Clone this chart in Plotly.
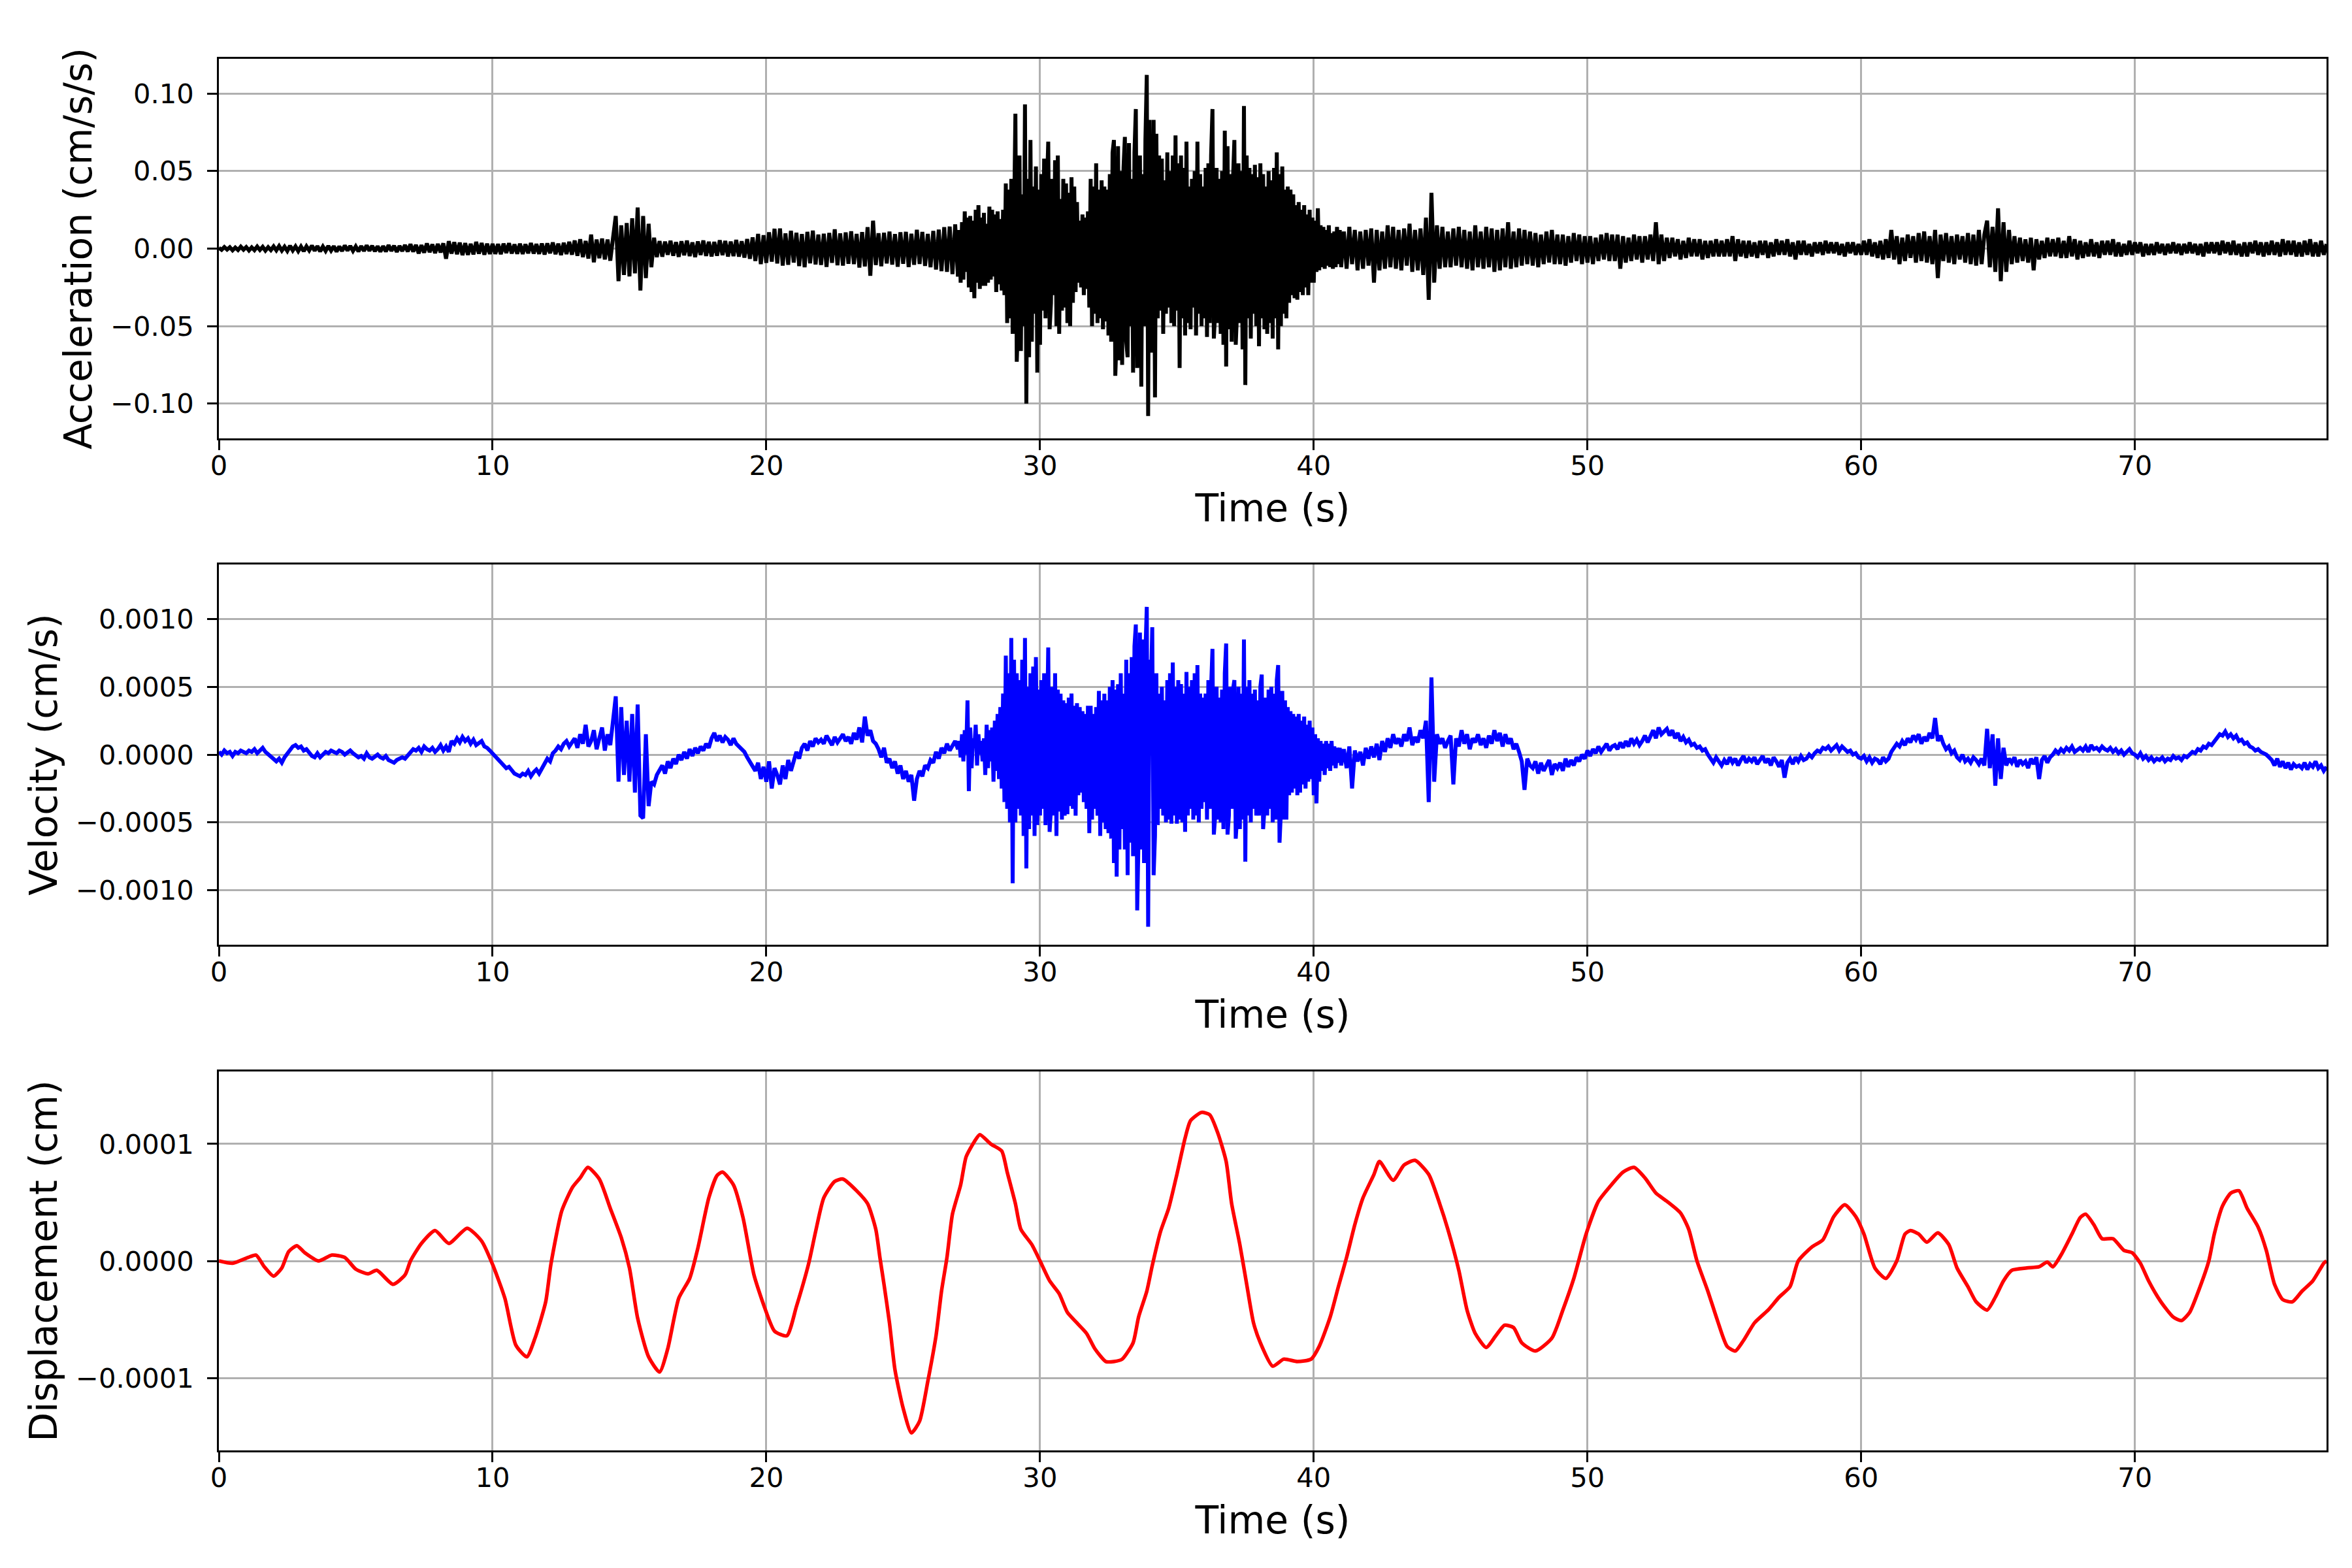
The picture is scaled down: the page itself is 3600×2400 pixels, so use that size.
import plotly.graph_objects as go

# ---------------- data ----------------
# Each series is stored in three segments; the strong-motion part is sampled more finely.
seg_start = [0.0, 27.0, 41.0]   # s
seg_step = [0.1, 0.05, 0.1]     # s

# acceleration in 1e-3 cm/s/s
accel_a = [  # 0.0 - 26.9 s
    0.5, -0.8, 1.0, -0.6, 0.9, -1.1, 0.7, -0.9, 1.2, -0.7,
    1.0, -1.2, 0.8, -1.0, 1.3, -0.9, 1.1, -1.3, 0.9, -1.0,
    1.4, -1.1, 1.6, -1.3, 1.2, -1.5, 1.8, -1.2, 1.4, -1.6,
    1.3, -1.7, 1.5, -1.2, 1.9, -1.4, 1.6, -1.8, 1.3, -1.5,
    1.7, -1.3, 1.5, -1.9, 1.4, -1.6, 2.0, -1.3, 1.7, -1.5,
    1.4, -1.8, 1.6, -1.5, 2.1, -1.4, 1.8, -1.7, 1.5, -2.0,
    1.6, -1.9, 2.2, -1.5, 1.8, -2.1, 1.7, -1.6, 2.3, -1.9,
    2.8, -2.0, 2.4, -3.1, 2.2, -2.6, 3.3, -2.3, 2.7, -2.9,
    3.0, -2.5, 3.4, -6.5, 4.8, -3.2, 4.1, -3.6, 3.8, -4.2,
    3.5, -4.0, 3.1, -3.7, 4.3, -3.3, 3.6, -3.9, 3.2, -3.5,
    3.0, -3.4, 2.9, -3.6, 3.2, -2.8, 3.5, -3.1, 2.7, -3.3,
    3.1, -3.5, 2.8, -3.0, 3.6, -3.2, 2.9, -3.4, 3.3, -3.8,
    3.4, -3.0, 3.9, -3.6, 3.2, -4.1, 3.7, -3.5, 4.4, -3.9,
    5.2, -4.6, 6.0, -5.5, 4.9, -6.4, 9.0, -8.8, 5.8, -6.2,
    6.5, -7.0, 5.8, -7.8, 6.9, 21.0, -21.0, 15.0, -17.0, 16.5,
    -18.0, 19.5, -16.0, 26.5, -27.0, 21.0, -19.0, 16.0, -12.0, 7.0,
    -5.5, 4.8, -5.2, 4.5, -4.0, 5.0, -4.6, 4.2, -5.3, 4.7,
    -4.3, 5.1, -4.8, 4.0, -5.5, 4.6, -4.1, 5.2, -4.7, 4.4,
    -5.0, 4.3, -4.6, 5.4, -4.2, 4.9, -5.1, 4.5, -4.8, 5.6,
    -5.2, 4.7, -5.8, 6.1, -6.6, 7.2, -8.0, 9.5, -10.0, 8.6,
    -9.2, 10.5, -8.4, 12.8, -9.6, 13.0, -11.0, 9.8, -10.4, 11.5,
    -9.0, 10.2, -11.3, 9.4, -12.0, 10.8, -9.5, 11.6, -10.2, 9.0,
    -10.5, 9.6, -11.8, 10.1, -9.2, 12.4, -10.7, 9.8, -11.0, 10.4,
    -9.8, 11.2, -10.0, 9.5, -12.2, 10.6, -11.5, 13.8, -17.5, 18.0,
    -10.6, 9.9, -11.4, 10.2, -9.6, 11.0, -10.3, 9.4, -11.7, 10.5,
    -9.8, 10.8, -11.9, 9.6, -10.4, 12.1, -9.9, 10.7, -11.2, 9.5,
    -12.0, 11.4, -13.5, 12.2, -14.6, 13.8, -15.0, 14.2, -16.5, 15.6,
]
accel_b = [  # 27.0 - 40.95 s
    -18, 12, -22, 17, -20, 24, -15, 20, -25, 21, -28, 18, -32, 25, -22, 28, -26, 20, -24, 23,
    -24, 16, -22, 27, -20, 25, -18, 22, -28, 24, -23, 19, -27, 25, -30, 42, -48, 38, -45, 45,
    -55, 40, 87, -73, -45, 60, -66, 35, -50, 93, -100, 45, -70, 70, -60, 40, -42, 53, -80, 38,
    -62, 48, -40, 58, -45, 38, 69, -52, -35, 45, -30, 57, -50, 60, -55, 32, -40, 45, -38, 42,
    -48, 36, -50, 46, -35, 40, -28, 30, -22, 18, -25, 22, -30, 20, -26, 24, -38, 45, -50, 40,
    -42, 55, -48, 38, -45, 44, -52, 40, -47, 38, -56, 48, -60, 62, 70, -82, -55, 66, -72, 50,
    -75, 52, 72, -60, -70, 68, -50, 45, -80, 62, 90, -77, -55, 60, -89, 48, -50, 70, 112, -108,
    83, -67, -50, 83, -96, 74, -45, 60, -40, 58, -55, 44, -42, 62, -38, 50, -48, 60, -50, 73,
    -40, 55, -77, 60, -45, 52, -56, 69, -48, 40, -52, 45, -38, 50, -56, 69, -42, 48, -50, 40,
    -45, 52, -57, 55, -48, 60, 90, -58, -40, 52, -48, 45, -55, 50, -62, 76, -76, 66, -52, 48,
    -60, 45, 70, -62, -40, 55, -48, 50, -65, 92, -88, 60, -45, 52, -58, 48, -42, 54, -50, 46,
    -63, 55, -45, 48, -52, 40, -55, 50, -48, 44, -58, 52, -45, 62, -65, 48, -50, 53, -42, 38,
    -45, 40, -35, 38, -30, 35, -32, 28, -33, 30, -28, 25, -30, 28, -25, 22, -30, 25, -22, 20,
    -22, 18, -15, 26, -14, 15, -12, 14, -13, 12, -11, 15, -12, 10, -13, 11, -12, 14, -10, 12,
]
accel_c = [  # 41.0 - 77.0 s
    -12.0, 11.0, -13.0, 14.0, -10.0, 12.0, -14.0, 11.0, -13.0, 12.0,
    -11.0, 13.0, -22.0, 12.0, -14.0, 11.0, -13.0, 15.0, -12.0, 14.0,
    -13.0, 12.0, -14.0, 13.0, -11.0, 16.0, -15.0, 12.0, -14.0, 13.0,
    -17.0, 20.0, -33.0, 36.0, -22.0, 15.0, -13.0, 14.0, -12.0, 11.0,
    -12.0, 13.0, -11.0, 14.0, -12.0, 12.0, -13.0, 11.0, -14.0, 15.0,
    -12.0, 11.0, -13.0, 14.0, -12.0, 13.0, -15.0, 12.0, -14.0, 13.0,
    -12.0, 17.0, -13.0, 11.0, -12.0, 13.0, -11.0, 12.0, -10.0, 11.0,
    -11.0, 10.0, -12.0, 9.0, -10.0, 11.0, -9.0, 12.0, -10.0, 9.0,
    -10.0, 9.0, -11.0, 8.0, -9.0, 10.0, -8.0, 9.0, -10.0, 8.0,
    -9.0, 8.0, -10.0, 7.0, -8.0, 9.0, -7.0, 10.0, -8.0, 9.0,
    -8.0, 9.0, -13.0, 8.0, -9.0, 7.0, -8.0, 9.0, -7.0, 8.0,
    -9.0, 8.0, -7.0, 9.0, -8.0, 17.0, -10.0, 9.0, -8.0, 7.0,
    -6.0, 7.0, -5.0, 6.0, -7.0, 5.0, -6.0, 7.0, -5.0, 6.0,
    -5.0, 6.0, -7.0, 5.0, -6.0, 5.0, -5.0, 6.0, -5.0, 5.0,
    -5.0, 6.0, -5.0, 8.0, -8.0, 6.0, -5.0, 5.0, -6.0, 5.0,
    -5.0, 4.0, -6.0, 5.0, -4.0, 5.0, -6.0, 4.0, -5.0, 6.0,
    -4.0, 5.0, -4.0, 6.0, -5.0, 4.0, -7.0, 5.0, -4.0, 5.0,
    -4.0, 3.0, -5.0, 4.0, -3.0, 4.0, -4.0, 5.0, -3.0, 4.0,
    -3.0, 4.0, -4.0, 3.0, -5.0, 4.0, -3.0, 4.0, -4.0, 3.0,
    -4.0, 5.0, -4.0, 6.0, -5.0, 4.0, -6.0, 5.0, -7.0, 6.0,
    -6.0, 12.0, -7.0, 8.0, -10.0, 7.0, -8.0, 9.0, -6.0, 8.0,
    -9.0, 10.0, -8.0, 11.0, -9.0, 8.0, -10.0, 12.0, -19.0, 9.0,
    -8.0, 10.0, -9.0, 8.0, -10.0, 9.0, -7.0, 8.0, -9.0, 10.0,
    -10.0, 9.0, -11.0, 12.0, -10.0, 9.0, 18.0, -12.0, 14.0, -15.0,
    26.0, -21.0, 17.0, -15.0, 12.0, -10.0, 8.0, -9.0, 7.0, -8.0,
    6.0, -9.0, 7.0, -14.0, 6.0, -7.0, 5.0, -6.0, 7.0, -5.0,
    6.0, -5.0, 7.0, -6.0, 5.0, -6.0, 8.0, -5.0, 6.0, -7.0,
    5.0, -6.0, 4.0, -5.0, 6.0, -5.0, 4.0, -6.0, 5.0, -4.0,
    5.0, -4.0, 6.0, -5.0, 4.0, -5.0, 3.0, -4.0, 5.0, -4.0,
    4.0, -3.0, 4.0, -5.0, 3.0, -4.0, 3.0, -4.0, 4.0, -3.0,
    3.0, -4.0, 3.0, -3.0, 4.0, -3.0, 3.0, -4.0, 3.0, -3.0,
    4.0, -3.0, 3.0, -4.0, 3.0, -5.0, 4.0, -3.0, 4.0, -3.0,
    4.0, -4.0, 5.0, -3.0, 4.0, -4.0, 5.0, -4.0, 3.0, -5.0,
    4.0, -5.0, 4.0, -3.0, 5.0, -4.0, 4.0, -5.0, 4.0, -4.0,
    5.0, -4.0, 4.0, -5.0, 6.0, -4.0, 5.0, -4.0, 5.0, -5.0,
    4.0, -5.0, 5.0, -4.0, 6.0, -5.0, 4.0, -5.0, 5.0, -4.0,
    3.0,
]

# velocity in 1e-5 cm/s
vel_a = [  # 0.0 - 26.9 s
    2, 0, 3, 1, 2, -1, 2, 1, 3, 2,
    1, 3, 2, 4, 1, 3, 5, 2, 0, -2,
    -4, -5, -3, -6, -2, 1, 4, 6, 7, 5,
    6, 3, 4, 1, -1, -2, 1, -2, 0, 2,
    1, 3, 2, 1, 3, 2, 0, 2, 3, 1,
    -1, -2, -1, -3, 1, -2, -3, -1, 0, -2,
    -3, -1, -4, -5, -6, -4, -3, -2, -3, -1,
    1, 4, 3, 5, 2, 6, 4, 3, 5, 2,
    4, 7, 3, 6, 2, 10, 8, 12, 9, 13,
    10, 12, 8, 11, 7, 9, 10, 6, 5, 3,
    1, -2, -4, -6, -8, -10, -9, -12, -14, -15,
    -16, -14, -15, -12, -16, -13, -11, -14, -10, -7,
    -3, -5, 1, 3, 6, 4, 8, 10, 6, 9,
    12, 5, 15, 8, 22, 6, 10, 18, 4, 12,
    20, 3, 15, 7, 25, 43, -20, 35, -15, 25,
    -20, 30, -28, 37, -45, -47, 15, -38, -20, -22,
    -15, -12, -8, -14, -5, -10, -3, -7, 0, -4,
    2, -3, 4, -1, 5, 1, 6, 3, 8, 5,
    12, 16, 10, 14, 9, 13, 11, 7, 12, 8,
    6, 4, 2, -2, -5, -8, -12, -6, -18, -9,
    -20, -5, -25, -10, -15, -22, -8, -18, -4, -12,
    -6, 2, -3, 5, 8, 3, 10, 6, 12, 9,
    11, 8, 14, 10, 7, 13, 9, 12, 15, 10,
    13, 8, 16, 11, 20, 9, 28, 14, 18, 10,
    8, 4, -2, 5, -6, -3, -10, -5, -14, -8,
    -18, -12, -20, -15, -34, -18, -12, -16, -8, -10,
    -4, -6, 2, -3, 5, 1, 8, 3, 6, 10,
]
vel_b = [  # 27.0 - 40.95 s
    4, 10, -2, 15, -5, 18, 0, 40, -27, 20, -10, 12, 5, 22, -8, 15, 0, 10, -5, 12,
    -15, 22, -10, 18, -5, 20, -20, 25, -12, 30, -18, 35, -25, 45, -35, 73, -40, 60, -50, 86,
    -95, 70, -50, 60, -40, 55, -45, 70, -60, 86, -84, 50, -55, 60, -45, 65, -60, 72, -52, 48,
    -45, 55, -40, 60, -52, 50, 79, -57, -40, 50, -45, 60, -60, 48, -42, 45, -48, 40, -45, 38,
    -44, 42, -38, 45, -40, 36, -45, 38, -30, 35, -28, 32, -35, 30, -40, 36, -58, 36, -48, 30,
    -40, 35, -45, 47, -60, 40, -50, 45, -55, 40, -58, 50, -62, 55, -80, 48, -90, 52, -70, 60,
    -55, 45, -70, 70, -89, 60, -65, 72, -75, 80, 96, -115, -60, 90, -70, 85, -80, 75, 109, -127,
    70, 48, 94, -89, -60, 60, -52, 45, -40, 50, -45, 40, -50, 55, -48, 60, -51, 68, -45, 50,
    -51, 55, -48, 52, -50, 45, -57, 61, -45, 50, -40, 55, -48, 60, -45, 66, -50, 45, -40, 42,
    -35, 45, -48, 55, -40, 50, 78, -59, -45, 50, -48, 42, -50, 48, -55, 60, 82, -59, -45, 50,
    -40, 48, 55, -62, -45, 50, -55, 45, -48, 85, -79, 50, -45, 55, -50, 45, -40, 48, -45, 40,
    -45, 50, 59, -55, -40, 42, -45, 48, -40, 50, -50, 45, -48, 55, 66, -65, -42, 47, -48, 40,
    -48, 35, -30, 32, -28, 30, -25, 28, -30, 30, -28, 25, -22, 28, -25, 22, -20, 25, -18, 20,
    -30, 15, -36, 12, -20, 10, -12, 8, -15, 10, -10, 8, -12, 10, -8, 6, -10, 5, -6, 5,
]
vel_c = [  # 41.0 - 77.0 s
    -8, 4, -10, 6, -25, 3, -5, 2, -8, 5,
    -3, 6, -2, 8, -4, 10, 2, 12, 5, 15,
    8, 12, 6, 15, 10, 20, 7, 13, 9, 18,
    12, 25, -35, 57, -20, 15, 8, 12, 5, 10,
    14, -22, 12, 6, 18, 8, 15, 4, 12, 9,
    15, 7, 12, 5, 14, 8, 18, 10, 16, 6,
    15, 8, 12, 4, 8, 2, -5, -26, -3, -8,
    -10, -5, -14, -6, -12, -8, -4, -15, -7, -10,
    -6, -12, -3, -9, -4, -8, -2, -5, 0, -3,
    3, -1, 4, 1, 6, 2, 5, 8, 3, 6,
    7, 4, 9, 5, 10, 6, 12, 8, 11, 7,
    10, 14, 9, 13, 18, 12, 20, 15, 17, 19,
    14, 18, 12, 16, 10, 13, 9, 11, 7, 8,
    5, 6, 3, 4, 0, -3, -6, -2, -5, -8,
    -4, -7, -2, -6, -3, -8, -4, -1, -6, -3,
    -5, -2, -7, -4, -1, -6, -3, -8, -2, -5,
    -9, -4, -17, -6, -3, -7, -2, -5, -1, -4,
    -3, 0, -2, 1, 3, 2, 5, 4, 6, 3,
    5, 7, 3, 6, 4, 2, 3, 0, 1, -2,
    -3, -1, -5, -2, -6, -3, -4, -7, -2, -5,
    -3, 2, 5, 8, 6, 10, 7, 12, 9, 14,
    11, 15, 8, 13, 10, 16, 12, 27, 10, 14,
    8, 4, 6, 1, 3, -2, -4, 0, -5, -3,
    -6, -2, -4, -7, -3, -8, 19, -10, 15, -23,
    12, -18, 5, -8, -3, -6, -2, -9, -4, -7,
    -5, -10, -3, -7, -2, -18, -4, -1, -6, -2,
    0, 3, 1, 4, 2, 5, 3, 6, 2, 4,
    5, 3, 6, 2, 7, 4, 5, 3, 6, 4,
    3, 5, 2, 4, 1, 3, 0, 2, 4, 1,
    0, -2, 1, -3, -1, -4, -2, -5, -3, -4,
    -2, -5, -3, -4, -1, -3, -2, -4, -1, -2,
    0, 2, 1, 4, 3, 6, 5, 8, 7, 10,
    12, 15, 14, 17, 13, 15, 12, 14, 10, 11,
    8, 9, 6, 5, 3, 4, 2, 1, 0, -2,
    -4, -8, -3, -9, -5, -10, -6, -11, -7, -9,
    -8, -10, -6, -11, -7, -9, -5, -10, -8, -12,
    -9,
]

# displacement: read points (time in s, value in 1e-6 cm)
disp_time = [
    0.0, 0.5, 1.07, 1.36, 1.66, 2.0, 2.3, 2.55, 2.85, 3.14, 3.64, 4.13, 4.6,
    5.0, 5.45, 5.77, 6.36, 6.8, 7.0, 7.4, 7.9, 8.4, 9.07, 9.6, 10.0, 10.45,
    10.85, 11.25, 11.55, 11.94, 12.13, 12.53, 12.92, 13.2, 13.48, 13.9, 14.3,
    14.7, 15.0, 15.3, 15.7, 16.1, 16.4, 16.8, 17.2, 17.5, 17.9, 18.2, 18.4,
    18.8, 19.15, 19.55, 19.94, 20.3, 20.75, 21.1, 21.55, 21.8, 22.1, 22.5,
    22.8, 23.3, 23.7, 24.0, 24.15, 24.3, 24.5, 24.7, 25.0, 25.3, 25.6, 25.9,
    26.2, 26.4, 26.6, 26.8, 27.1, 27.3, 27.6, 27.8, 28.2, 28.6, 28.8, 29.1,
    29.3, 29.7, 30.0, 30.35, 30.7, 31.0, 31.35, 31.7, 32.0, 32.4, 32.7, 33.0,
    33.4, 33.6, 33.9, 34.1, 34.4, 34.7, 35.0, 35.3, 35.5, 35.9, 36.2, 36.5,
    36.8, 37.0, 37.3, 37.55, 37.8, 38.05, 38.5, 38.9, 39.4, 39.9, 40.2, 40.6,
    40.9, 41.2, 41.5, 41.8, 42.2, 42.4, 42.9, 43.3, 43.7, 44.2, 44.6, 44.9,
    45.3, 45.6, 45.9, 46.3, 46.65, 46.97, 47.3, 47.6, 48.1, 48.7, 49.1, 49.5,
    49.95, 50.4, 50.8, 51.3, 51.7, 52.1, 52.5, 52.9, 53.4, 53.7, 54.0, 54.4,
    54.75, 55.1, 55.4, 55.7, 56.1, 56.6, 57.0, 57.4, 57.7, 58.2, 58.6, 59.0,
    59.4, 59.8, 60.1, 60.5, 60.9, 61.3, 61.6, 61.8, 62.1, 62.4, 62.8, 63.2,
    63.5, 63.9, 64.2, 64.6, 64.9, 65.2, 65.5, 66.05, 66.5, 66.8, 67.0, 67.3,
    67.7, 68.0, 68.2, 68.5, 68.8, 69.2, 69.6, 69.9, 70.2, 70.5, 70.95, 71.4,
    71.7, 72.0, 72.35, 72.7, 72.9, 73.2, 73.5, 73.8, 74.1, 74.5, 74.8, 75.1,
    75.4, 75.75, 76.1, 76.5, 76.9, 77.0,
]
disp_e6 = [
    0, -2, 3, 5, -5, -13, -6, 8, 13, 7, 0, 5, 3,
    -7, -11, -8, -20, -12, 0, 15, 26, 15, 28, 17, -3, -32,
    -72, -82, -66, -35, -3, 43, 63, 71, 80, 70, 45,
    20, -6, -49, -82, -95, -75, -32, -15, 11, 54, 73, 76,
    65, 37, -12, -40, -60, -64, -39, -2, 25, 54, 68,
    70, 60, 49, 27, 3, -20, -53, -93, -126, -147, -137, -103,
    -64, -26, 3, 40, 65, 89, 102, 108, 100, 94, 76, 49,
    27, 14, 0, -17, -28, -44, -53, -62, -75, -86, -86, -84,
    -70, -48, -26, -4, 25, 45, 74, 105, 120, 127, 125, 109,
    85, 49, 14, -20, -53, -70, -90, -84, -86, -84, -73, -48,
    -22, 3, 31, 54, 74, 85, 69, 82, 86, 74, 49, 27,
    -8, -42, -62, -74, -64, -55, -57, -70, -77, -66, -42, -15,
    23, 51, 63, 76, 80, 71, 58, 51, 41, 27, 0, -26,
    -51, -73, -77, -68, -53, -42, -31, -22, 0, 12, 18, 38,
    48, 38, 23, -6, -15, 0, 23, 26, 23, 16, 24, 14,
    -6, -22, -35, -42, -31, -17, -8, -6, -5, -1, -5, 5,
    23, 37, 40, 31, 19, 19, 9, 7, -2, -17, -35, -48,
    -51, -44, -24, 0, 23, 47, 58, 60, 45, 29, 9, -20,
    -33, -35, -26, -17, -2, 0,
]

time_label = "Time (s)"
y_labels = ["Acceleration (cm/s/s)", "Velocity (cm/s)", "Displacement (cm)"]
x_ticks = [0, 10, 20, 30, 40, 50, 60, 70]
accel_ticks = [-0.10, -0.05, 0.00, 0.05, 0.10]
vel_ticks = [-0.0010, -0.0005, 0.0000, 0.0005, 0.0010]
disp_ticks = [-0.0001, 0.0000, 0.0001]


# ---------------- derived series (sample times + unit conversion) ----------------
def join_segments(segs, scale):
    t, y = [], []
    for start, step, vals in zip(seg_start, seg_step, segs):
        for i, v in enumerate(vals):
            t.append(round(start + i * step, 3))
            y.append(v * scale)
    return t, y


accel_t, accel = join_segments([accel_a, accel_b, accel_c], 1e-3)
vel_t, vel = join_segments([vel_a, vel_b, vel_c], 1e-5)
disp = [v * 1e-6 for v in disp_e6]

# ---------------- figure ----------------
FONT = "DejaVu Sans"
TICK = 41.7
LABEL = 58.3
LW = 3.33
W, H = 3600, 2400
ML, MR, MT, MB = 327, 47, 82, 188
plot_h = H - MT - MB


def ydom(top_px, bot_px):
    return [(H - MB - bot_px) / plot_h, (H - MB - top_px) / plot_h]


fig = go.Figure()
fig.add_trace(go.Scatter(x=accel_t, y=accel, mode="lines",
                         line=dict(color="#000000", width=6),
                         xaxis="x", yaxis="y", showlegend=False))
fig.add_trace(go.Scatter(x=vel_t, y=vel, mode="lines",
                         line=dict(color="#0000ff", width=6),
                         xaxis="x2", yaxis="y2", showlegend=False))
fig.add_trace(go.Scatter(x=disp_time, y=disp, mode="lines",
                         line=dict(color="#ff0000", width=5.5, shape="spline", smoothing=0.6),
                         xaxis="x3", yaxis="y3", showlegend=False))


def common():
    return dict(showgrid=True, gridcolor="#b0b0b0", gridwidth=LW,
                showline=True, linecolor="black", linewidth=LW, mirror=True,
                ticks="outside", ticklen=14.6, tickwidth=LW, tickcolor="black",
                tickfont=dict(family=FONT, size=TICK, color="black"),
                zeroline=False)


def xaxis(anchor):
    d = common()
    d.update(domain=[0, 1], range=[0, 77], tickvals=x_ticks,
             anchor=anchor, ticklabelstandoff=-12,
             title=dict(text=time_label, standoff=22,
                        font=dict(family=FONT, size=LABEL, color="black")))
    return d


def yaxis(anchor, dom, rng, tv, fmt, label):
    d = common()
    d.update(domain=dom, range=rng, tickvals=tv, tickformat=fmt,
             anchor=anchor, ticklabelstandoff=12,
             title=dict(text=label, standoff=10,
                        font=dict(family=FONT, size=LABEL, color="black")))
    return d


fig.update_layout(
    width=W, height=H,
    margin=dict(l=ML, r=MR, t=MT, b=MB),
    paper_bgcolor="white", plot_bgcolor="white",
    showlegend=False,
    font=dict(family=FONT, color="black"),
    xaxis=xaxis("y"),
    xaxis2=xaxis("y2"),
    xaxis3=xaxis("y3"),
    yaxis=yaxis("x", ydom(82, 663), [-0.1224, 0.1224], accel_ticks, ".2f", y_labels[0]),
    yaxis2=yaxis("x2", ydom(856, 1438), [-0.001403, 0.001403], vel_ticks, ".4f", y_labels[1]),
    yaxis3=yaxis("x3", ydom(1632, 2212), [-0.000162, 0.000162], disp_ticks, ".4f", y_labels[2]),
)

fig.write_html("out.html")
